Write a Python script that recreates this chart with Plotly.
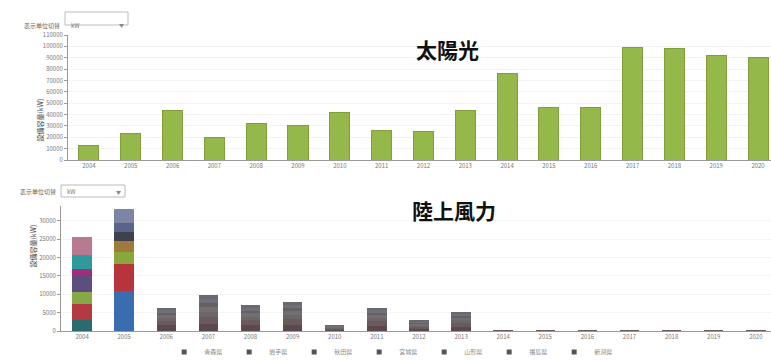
import plotly.graph_objects as go

W, H = 771, 360

# ---------------- data ----------------
categories = ["2004", "2005", "2006", "2007", "2008", "2009", "2010", "2011", "2012",
              "2013", "2014", "2015", "2016", "2017", "2018", "2019", "2020"]

solar_values = [13200, 22900, 44000, 20200, 31700, 30800, 42200, 26400, 25500,
                44000, 75700, 46600, 46600, 98600, 97700, 92400, 90600]

solar_ticks = [0, 10000, 20000, 30000, 40000, 50000, 60000, 70000, 80000, 90000, 100000, 110000]
wind_ticks = [0, 5000, 10000, 15000, 20000, 25000, 30000]

wind_series_names = ["青森県", "岩手県", "秋田県", "宮城県", "山形県", "福島県", "新潟県"]
wind_s1 = [3000, 10900, 1500, 2000, 1600, 1700, 400, 1400, 700, 1200, 100, 100, 100, 100, 100, 100, 100]
wind_s2 = [4400, 7400, 1200, 1800, 1300, 1500, 300, 1200, 500, 900, 50, 50, 50, 50, 50, 50, 50]
wind_s3 = [3300, 3300, 900, 1500, 1000, 1200, 200, 1000, 400, 800, 0, 0, 0, 0, 0, 0, 0]
wind_s4 = [4400, 3000, 700, 1200, 900, 1000, 200, 800, 400, 700, 0, 0, 0, 0, 0, 0, 0]
wind_s5 = [1900, 2200, 600, 1000, 700, 800, 150, 600, 300, 500, 0, 0, 0, 0, 0, 0, 0]
wind_s6 = [3800, 2700, 700, 1100, 800, 800, 150, 600, 300, 500, 0, 0, 0, 0, 0, 0, 0]
wind_s7 = [4900, 3800, 700, 1200, 800, 900, 200, 700, 400, 600, 0, 0, 0, 0, 0, 0, 0]
wind_series = [wind_s1, wind_s2, wind_s3, wind_s4, wind_s5, wind_s6, wind_s7]

# ---------------- styles ----------------
FONT = "Noto Sans CJK JP"
solar_color = "#94b84a"
bar1_colors = ["#2b6a6e", "#b23a40", "#86a846", "#5c4f80", "#9e2f78", "#2e9a9c", "#b87a90"]
bar2_colors = ["#3a6cb0", "#b8343c", "#8aa83a", "#a07a3a", "#40404e", "#5a6488", "#7c86a4"]
rest_colors = ["#5a4a4e", "#6a5a5e", "#6c6668", "#746e70", "#646066", "#70707a", "#686a70"]
legend_color = "#555555"


def px_x(p):
    return p / W


def px_y(p):
    return 1 - p / H


fig = go.Figure()

fig.add_trace(go.Bar(x=categories, y=solar_values, marker=dict(color=solar_color,
                     line=dict(color="#7f9f3c", width=1)),
                     xaxis="x", yaxis="y", showlegend=False, width=0.48))

for i, (name, vals) in enumerate(zip(wind_series_names, wind_series)):
    colors = [bar1_colors[i], bar2_colors[i]] + [rest_colors[i]] * (len(categories) - 2)
    fig.add_trace(go.Bar(x=categories, y=vals, name=name,
                         marker=dict(color=colors, line=dict(width=0)),
                         xaxis="x2", yaxis="y2", showlegend=False, width=0.46))
    fig.add_trace(go.Scatter(x=[None], y=[None], name=name, mode="markers",
                             marker=dict(color=legend_color, symbol="square", size=5),
                             xaxis="x2", yaxis="y2", showlegend=True))

axis_common = dict(showline=True, linecolor="#999999", linewidth=1, automargin=False,
                   tickfont=dict(size=6, color="#777777", family=FONT))

fig.update_layout(
    width=W, height=H,
    margin=dict(l=0, r=0, t=0, b=0, autoexpand=False),
    paper_bgcolor="white", plot_bgcolor="white",
    barmode="stack",
    font=dict(family=FONT),
    xaxis=dict(domain=[px_x(68), 1], anchor="y", type="category",
               range=[-0.5, 16.31], showgrid=False, ticks="", **axis_common),
    yaxis=dict(domain=[px_y(160), px_y(35)], anchor="x", range=[0, 110000],
               tickvals=solar_ticks, tickformat="d", showgrid=True, gridcolor="#f2f2f2",
               ticks="outside", ticklen=3, tickcolor="#999999", zeroline=False,
               **axis_common),
    xaxis2=dict(domain=[px_x(61), 1], anchor="y2", type="category",
                range=[-0.5, 16.36], showgrid=False, ticks="", **axis_common),
    yaxis2=dict(domain=[px_y(331), px_y(206)], anchor="x2", range=[0, 34000],
                tickvals=wind_ticks, tickformat="d", showgrid=True, gridcolor="#f5f5f5",
                ticks="outside", ticklen=3, tickcolor="#999999", zeroline=False,
                **axis_common),
    legend=dict(orientation="h", x=0.508, xanchor="center", y=px_y(352), yanchor="middle",
                font=dict(size=6, color="#888888", family=FONT), traceorder="normal",
                entrywidth=20, entrywidthmode="pixels", itemwidth=30,
                bgcolor="rgba(0,0,0,0)"),
    annotations=[
        dict(text="<b>太陽光</b>", x=px_x(447), y=px_y(32), xref="paper", yref="paper",
             showarrow=False, font=dict(size=21, color="#111111", family=FONT)),
        dict(text="<b>陸上風力</b>", x=px_x(454), y=px_y(210), xref="paper", yref="paper",
             showarrow=False, font=dict(size=21, color="#111111", family=FONT)),
        dict(text="設備容量(kW)", x=px_x(33), y=px_y(97), xref="paper", yref="paper",
             textangle=-90, showarrow=False, font=dict(size=7, color="#444444", family=FONT)),
        dict(text="設備容量(kW)", x=px_x(25), y=px_y(270), xref="paper", yref="paper",
             textangle=-90, showarrow=False, font=dict(size=7, color="#444444", family=FONT)),
        dict(text="表示単位切替", x=px_x(62), y=px_y(18.5), xref="paper", yref="paper",
             xanchor="right", showarrow=False, font=dict(size=6, color="#666666", family=FONT)),
        dict(text="kW", x=px_x(69), y=px_y(18.5), xref="paper", yref="paper", xanchor="left",
             showarrow=False, font=dict(size=6, color="#777777", family=FONT)),
        dict(text="▼", x=px_x(126), y=px_y(18.5), xref="paper", yref="paper", xanchor="right",
             showarrow=False, font=dict(size=5, color="#888888", family=FONT)),
        dict(text="表示単位切替", x=px_x(58), y=px_y(191), xref="paper", yref="paper",
             xanchor="right", showarrow=False, font=dict(size=6, color="#666666", family=FONT)),
        dict(text="kW", x=px_x(65), y=px_y(191), xref="paper", yref="paper", xanchor="left",
             showarrow=False, font=dict(size=6, color="#777777", family=FONT)),
        dict(text="▼", x=px_x(123), y=px_y(191), xref="paper", yref="paper", xanchor="right",
             showarrow=False, font=dict(size=5, color="#888888", family=FONT)),
    ],
    shapes=[
        dict(type="rect", xref="paper", yref="paper", x0=px_x(65), x1=px_x(128),
             y0=px_y(25), y1=px_y(12), line=dict(color="#bbbbbb", width=1), fillcolor="white",
             layer="below"),
        dict(type="rect", xref="paper", yref="paper", x0=px_x(61), x1=px_x(125),
             y0=px_y(197), y1=px_y(185), line=dict(color="#bbbbbb", width=1), fillcolor="white",
             layer="below"),
    ],
)

fig.write_html("out.html", config={"displayModeBar": False},
               post_script="document.body.style.margin='0';document.body.style.padding='0';"
                           "document.body.style.overflow='hidden';")
